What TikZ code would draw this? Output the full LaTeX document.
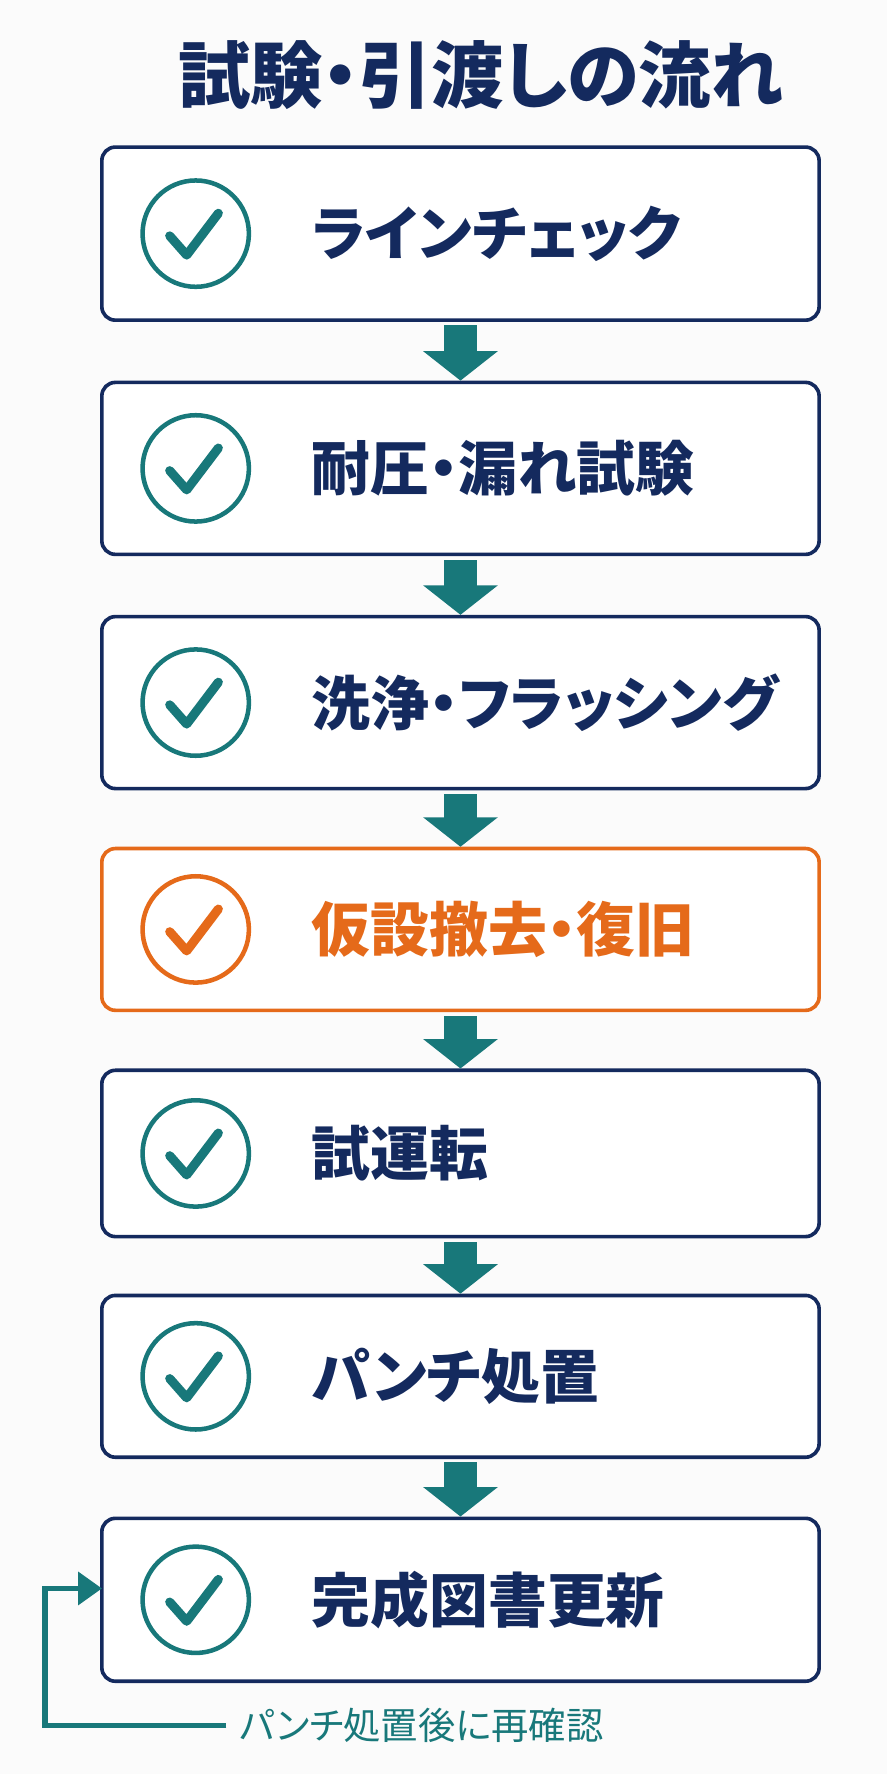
\documentclass[tikz,border=0pt]{standalone}
\usepackage{fontspec}
\usetikzlibrary{calc}
\newfontfamily\jp{Noto Sans CJK JP}[RawFeature=+palt]
\definecolor{navy}{HTML}{142A5E}
\definecolor{teal2}{HTML}{18787A}
\definecolor{orng}{HTML}{E56A1A}
\begin{document}
\begin{tikzpicture}[x=1pt,y=-1pt,
  box/.style={draw=navy,line width=3.2pt,rounded corners=12pt,fill=white,minimum width=634pt,minimum height=150pt,inner sep=0pt},
  lbl/.style={font=\jp\bfseries\fontsize{52}{52}\selectfont,text=navy,anchor=west},
  chk/.style={circle,draw=teal2,line width=4pt,minimum size=94pt,inner sep=0pt},
  flow/.style={draw=none,fill=teal2}]
\fill[white!97!gray] (0,0) rectangle (784,1568);
\useasboundingbox (0,0) rectangle (784,1568);
\node[font=\jp\bfseries\fontsize{64}{64}\selectfont,text=navy] (title) at (425,66) {試験・引渡しの流れ};
\def\ys{{206.5,414,621,821.5,1019.5,1216.5,1414}}
\def\hs{{153,152,152,143,147,143,144}}
\foreach \i/\t in {0/ラインチェック,1/耐圧・漏れ試験,2/洗浄・フラッシング,3/仮設撤去・復旧,4/試運転,5/パンチ処置,6/完成図書更新}{
  \pgfmathsetmacro\y{\ys[\i]}\pgfmathsetmacro\h{\hs[\i]}
  \ifnum\i=3
    \node[box,draw=orng,minimum height=\h pt] (b\i) at (407,\y) {};
    \node[chk,draw=orng] (c\i) at (173,\y) {};
    \draw[orng,line width=8pt,line cap=round,line join=round] (150,\y+2) -- (165,\y+19) -- (193,\y-18);
    \node[lbl,text=orng] (t\i) at (272,\y) {\t};
  \else
    \node[box,minimum height=\h pt] (b\i) at (407,\y) {};
    \node[chk] (c\i) at (173,\y) {};
    \draw[teal2,line width=8pt,line cap=round,line join=round] (150,\y+2) -- (165,\y+19) -- (193,\y-18);
    \node[lbl] (t\i) at (272,\y) {\t};
  \fi
}
\foreach \a/\b in {0/1,1/2,2/3,3/4,4/5,5/6}{
  \path (b\a.south) ++(0,3) coordinate (s\a);
  \path (b\b.north) coordinate (e\a);
  \fill[teal2] ($(s\a)+(-15,0)$) rectangle ($(e\a)+(15,-24)$);
  \fill[teal2] ($(e\a)+(-33,-26)$) -- ($(e\a)+(33,-26)$) -- (e\a) -- cycle;
}
\coordinate (fb1) at (40,1525);
\coordinate (fb2) at (40,1404);
\coordinate (fb3) at (75,1404);
\draw[teal2,line width=5pt,line join=miter] (200,1525) -- (fb1) -- (fb2) -- (fb3);
\fill[teal2] (90,1404) -- (69,1389) -- (69,1419) -- cycle;
\node[font=\jp\fontsize{33}{33}\selectfont,text=teal2,anchor=west] (fl) at (208,1525) {パンチ処置後に再確認};
\end{tikzpicture}
\end{document}
